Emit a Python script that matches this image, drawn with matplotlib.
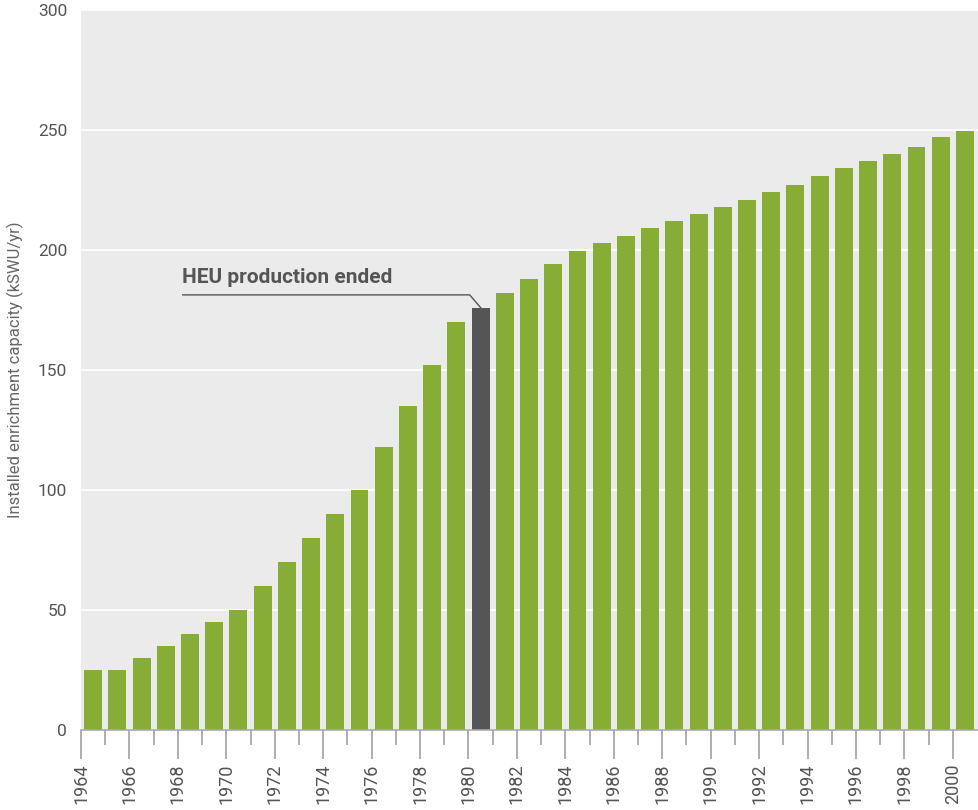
import matplotlib.pyplot as plt
import matplotlib
from matplotlib.ticker import MultipleLocator
matplotlib.rcParams['font.family'] = 'Roboto'

# Installed enrichment capacity by year (kSWU/yr)
years = list(range(1964, 2001))
capacity = [25, 25, 30, 35, 40, 45, 50, 60, 70, 80,
            90, 100, 118, 135, 152, 170, 176, 182, 188, 194,
            199.5, 203, 206, 209, 212, 215, 218, 221, 224, 227,
            231, 234, 237, 240, 243, 247, 249.5]
highlight_year = 1980
note = "HEU production ended"

green = "#88ad37"
dark = "#555555"
colors = [dark if y == highlight_year else green for y in years]

fig = plt.figure(figsize=(9.79, 8.10), dpi=100)
ax = fig.add_axes([81 / 979, 80 / 810, 898 / 979, 720 / 810])
ax.set_facecolor("#ebebeb")

# bars sit between the year ticks
xpos = [y + 0.5 for y in years]
ax.bar(xpos, capacity, width=0.74, color=colors, zorder=2)

ax.set_xlim(1964, 2001.08)
ax.set_ylim(0, 300)
ax.yaxis.set_major_locator(MultipleLocator(50))
ax.grid(axis="y", color="white", linewidth=1.3, alpha=0.9, zorder=3)

ax.set_xticks(range(1964, 2001, 2))
ax.set_xticks(range(1965, 2001, 2), minor=True)
ax.set_xticklabels([str(y) for y in range(1964, 2001, 2)], rotation=90)
ax.tick_params(axis="x", which="major", length=21, width=1.1, color="#999999",
               labelsize=13, labelcolor="#555555", pad=3)
ax.tick_params(axis="x", which="minor", length=11, width=1.1, color="#999999")
ax.tick_params(axis="y", length=0, labelsize=12.5, labelcolor="#555555", pad=10)

for s in ["top", "right", "left"]:
    ax.spines[s].set_visible(False)
ax.spines["bottom"].set_color("#aaaaaa")
ax.spines["bottom"].set_linewidth(1.2)
ax.spines["bottom"].set_zorder(4)

ax.set_ylabel("Installed enrichment capacity (kSWU/yr)", fontsize=12,
              color="#666666", labelpad=10)

# annotation on the highlighted bar
i = years.index(highlight_year)
bx, by = xpos[i], capacity[i]
ax.plot([bx - 12.3, bx - 0.45, bx], [by + 5.3, by + 5.3, by],
        color="#555555", linewidth=1, zorder=5)
ax.text(bx - 12.35, by + 8.5, note, fontsize=15, fontweight="bold",
        color="#555555", ha="left", va="bottom", zorder=5)

plt.savefig("out.png", dpi=100)
